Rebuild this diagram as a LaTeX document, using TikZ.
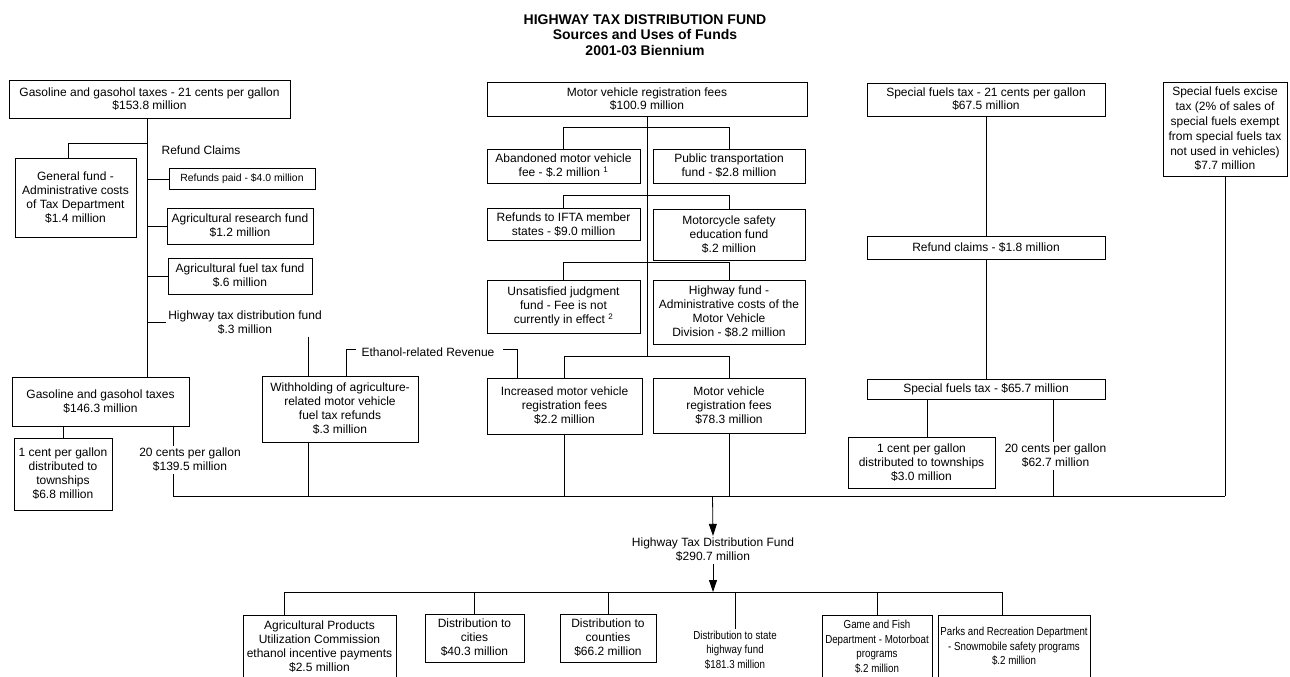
\documentclass[tikz,border=0pt]{standalone}
\usepackage{fontspec}
\setmainfont{Liberation Sans}
\newfontfamily\narrowfam[FakeStretch=0.84]{Liberation Sans}
\usetikzlibrary{arrows.meta}
\newcommand{\boxfont}{\fontsize{12}{14}\selectfont}
\newcommand{\topfont}{\fontsize{12}{13}\selectfont}
\newcommand{\refsfont}{\fontsize{10.4}{13}\selectfont}
\newcommand{\condfont}{\narrowfam\fontsize{11.6}{14.5}\selectfont}
\newcommand{\headfont}{\fontsize{14}{15.5}\selectfont\bfseries}
\tikzset{%
    box/.style={draw, rectangle, align=center, inner sep=0pt, font=\boxfont},
    lbl/.style={align=center, inner sep=2pt, font=\boxfont},
    flow/.style={-{Triangle[length=12pt,width=8pt]}}
}

\begin{document}
\begin{tikzpicture}[x=1pt, y=-1pt, line width=0.8pt]
        \useasboundingbox (0,0) rectangle (1290,677);

        \node[align=center, font=\headfont] (ttl) at (645,35) {HIGHWAY TAX DISTRIBUTION FUND\\Sources and Uses of Funds\\2001-03 Biennium};

        % gasoline and gasohol
        \node[box, font=\topfont, minimum width=281pt, minimum height=38pt] (gas) at (149.5,99) {Gasoline and gasohol taxes - 21 cents per gallon\\\$153.8 million};
        \node[box, minimum width=121pt, minimum height=79pt] (genf) at (75.5,197.5) {General fund -\\Administrative costs\\of Tax Department\\\$1.4 million};
        \node[lbl] (rcl) at (201,150) {Refund Claims};
        \node[box, font=\refsfont, minimum width=146pt, minimum height=21pt] (refp) at (242,179) {Refunds paid - \$4.0 million};
        \node[box, minimum width=146pt, minimum height=36pt] (agres) at (240,226) {Agricultural research fund\\\$1.2 million};
        \node[box, minimum width=144pt, minimum height=36pt] (agfuel) at (240,276) {Agricultural fuel tax fund\\\$.6 million};
        \node[lbl] (hwyl) at (245,322.5) {Highway tax distribution fund\\\$.3 million};
        \node[box, minimum width=177pt, minimum height=49pt] (gas2) at (100.5,401.5) {Gasoline and gasohol taxes\\\$146.3 million};
        \node[box, minimum width=98pt, minimum height=72pt] (twp1) at (63,474) {1 cent per gallon\\distributed to\\townships\\\$6.8 million};
        \node[lbl] (c20a) at (190,460) {20 cents per gallon\\\$139.5 million};
        \node[box, minimum width=156pt, minimum height=66pt] (withh) at (340,409) {Withholding of agriculture-\\related motor vehicle\\fuel tax refunds\\\$.3 million};
        \node[lbl] (ethl) at (428,352) {Ethanol-related Revenue};

        % motor vehicle registration
        \node[box, font=\topfont, minimum width=320pt, minimum height=34pt] (mvr) at (647,99) {Motor vehicle registration fees\\\$100.9 million};
        \node[box, minimum width=153pt, minimum height=34pt] (aband) at (563.5,166) {Abandoned motor vehicle\\fee - \$.2 million \textsuperscript{1}};
        \node[box, minimum width=152pt, minimum height=34pt] (pubtr) at (729,166) {Public transportation\\fund - \$2.8 million};
        \node[box, minimum width=153pt, minimum height=32pt] (ifta) at (563.5,224.5) {Refunds to IFTA member\\states - \$9.0 million};
        \node[box, minimum width=152pt, minimum height=51pt] (moto) at (729,234.5) {Motorcycle safety\\education fund\\\$.2 million};
        \node[box, minimum width=153pt, minimum height=53pt] (unsat) at (563.5,306.5) {Unsatisfied judgment\\fund - Fee is not\\currently in effect \textsuperscript{2}};
        \node[box, minimum width=152pt, minimum height=64pt] (hwyadm) at (729,312) {Highway fund -\\Administrative costs of the\\Motor Vehicle\\Division - \$8.2 million};
        \node[box, minimum width=155pt, minimum height=56pt] (incr) at (564.5,406) {Increased motor vehicle\\registration fees\\\$2.2 million};
        \node[box, minimum width=152pt, minimum height=55pt] (mvr2) at (729,405.5) {Motor vehicle\\registration fees\\\$78.3 million};

        % special fuels
        \node[box, font=\topfont, minimum width=238pt, minimum height=33pt] (sf) at (986,99.5) {Special fuels tax - 21 cents per gallon\\\$67.5 million};
        \node[box, minimum width=238pt, minimum height=23pt] (sfref) at (986,247.5) {Refund claims - \$1.8 million};
        \node[box, minimum width=238pt, minimum height=20pt] (sf2) at (986,389) {Special fuels tax - \$65.7 million};
        \node[box, minimum width=147pt, minimum height=51pt] (twp2) at (921.5,462.5) {1 cent per gallon\\distributed to townships\\\$3.0 million};
        \node[lbl] (c20b) at (1055.5,456) {20 cents per gallon\\\$62.7 million};
        \node[box, font=\fontsize{12}{14.8}\selectfont, minimum width=124pt, minimum height=94pt] (exc) at (1225,129) {Special fuels excise\\tax (2\% of sales of\\special fuels exempt\\from special fuels tax\\not used in vehicles)\\\$7.7 million};

        % fund and uses
        \node[lbl] (htdf) at (713,550) {Highway Tax Distribution Fund\\\$290.7 million};
        \node[box, minimum width=153pt, minimum height=63pt] (apuc) at (319.5,646.5) {Agricultural Products\\Utilization Commission\\ethanol incentive payments\\\$2.5 million};
        \node[box, minimum width=99pt, minimum height=48pt] (cities) at (474.5,638) {Distribution to\\cities\\\$40.3 million};
        \node[box, minimum width=96pt, minimum height=48pt] (counties) at (608,638) {Distribution to\\counties\\\$66.2 million};
        \node[lbl, font=\condfont] (state) at (735,650) {Distribution to state\\highway fund\\\$181.3 million};
        \node[box, font=\condfont, minimum width=110pt, minimum height=63pt] (gamef) at (877,646.5) {Game and Fish\\Department - Motorboat\\programs\\\$.2 million};
        \node[box, font=\condfont, minimum width=152pt, minimum height=63pt] (parks) at (1014,646.5) {Parks and Recreation Department\\- Snowmobile safety programs\\\$.2 million};

        \coordinate (lsp) at (147,143);
        \coordinate (gfk) at (68,143);
        \coordinate (c20k) at (173,496);
        \coordinate (cw) at (308.5,496);
        \coordinate (eL) at (346,349);
        \coordinate (eR) at (517,349);
        \coordinate (mj) at (647,357);
        \coordinate (twk) at (927,437);
        \coordinate (c20bk) at (1053,496);
        \coordinate (coll) at (712.5,496);
        \coordinate (dl) at (284,592);
        \coordinate (dr) at (1002,592);

        \draw (gas.south -| lsp) -- (gas2.north -| lsp);
        \draw (lsp) -- (gfk) -- (gfk |- genf.north);
        \foreach \n in {refp,agres,agfuel,hwyl}
            \draw (\n.west -| lsp) -- (\n.west);
        \draw (hwyl.south -| cw) -- (withh.north -| cw);
        \draw (withh.south -| cw) -- (cw);
        \draw (gas2.south -| twp1) -- (twp1.north);
        \draw (gas2.south -| c20k) -- (c20a.north -| c20k);
        \draw (c20a.south -| c20k) -- (c20k);
        \draw (withh.north -| eL) -- (eL) -- ++(10,0);
        \draw (eR) ++(-14,0) -- (eR) -- (incr.north -| eR);

        \draw (mvr.south) -- (mj);
        \foreach \a/\b/\d in {aband/pubtr/21, ifta/moto/12.5, unsat/hwyadm/17, incr/mvr2/21}
            \draw (\a.north) -- ++(0,-\d) -| (\b.north);
        \draw (incr.south) -- (incr.south |- coll);
        \draw (mvr2.south) -- (mvr2.south |- coll);

        \draw (sf.south) -- (sfref.north);
        \draw (sfref.south) -- (sf2.north);
        \draw (sf2.south -| twk) -- (twp2.north -| twk);
        \draw (sf2.south -| c20bk) -- (c20b.north -| c20bk);
        \draw (c20b.south -| c20bk) -- (c20bk);
        \draw (exc.south) -- (exc.south |- coll);
        \draw (c20k) -- (exc.south |- coll);

        \draw[flow] (coll) -- (htdf.north);
        \draw[flow] (htdf.south) -- (htdf.south |- dl);
        \draw (dl) -- (dr);
        \draw (dl) -- (apuc.north -| dl);
        \draw (dr) -- (parks.north -| dr);
        \foreach \n in {cities,counties,state,gamef}
            \draw (\n.north |- dl) -- (\n.north);
    \end{tikzpicture}
\end{document}
